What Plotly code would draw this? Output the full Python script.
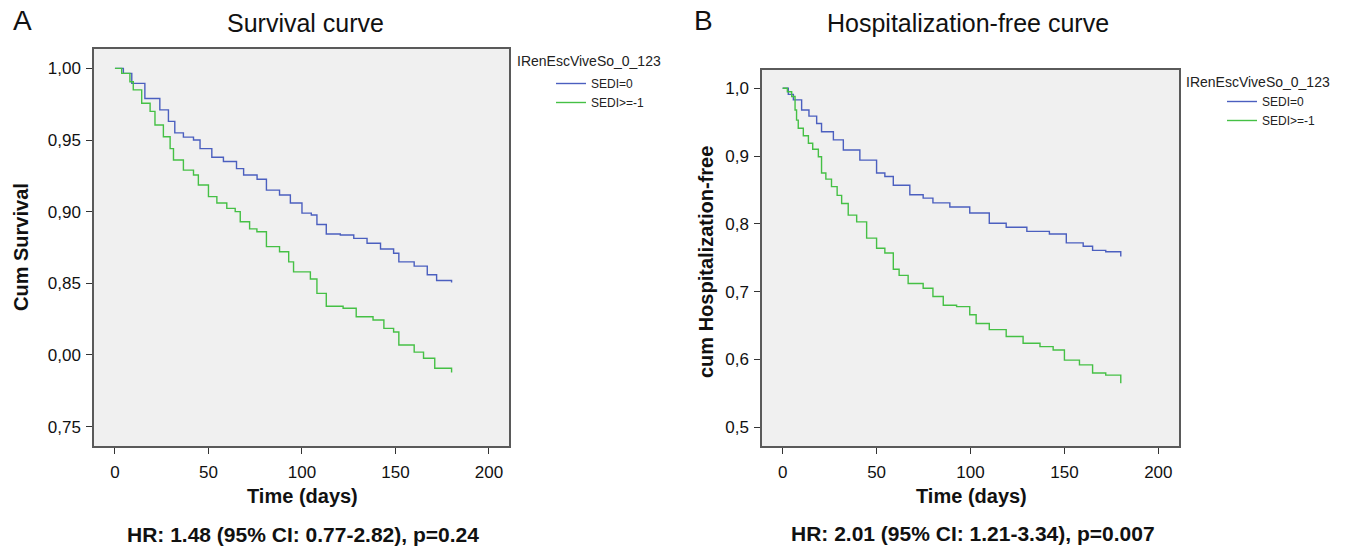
import plotly.graph_objects as go

# Panel A - survival (Kaplan-Meier)
days_a_sedi0 = [0, 4.5, 9, 16, 24, 28.6, 32, 36.6, 42, 45.5, 51.8, 58, 65, 68.8, 76, 81, 88, 93.8,
                100, 105, 108, 113, 120.5, 127.7, 134.8, 142, 149, 151.8, 160, 167, 172, 180]
surv_a_sedi0 = [1.0, 0.9965, 0.9895, 0.979, 0.971, 0.963, 0.955, 0.952, 0.950, 0.944, 0.938, 0.935,
                0.930, 0.9256, 0.9226, 0.915, 0.9116, 0.906, 0.899, 0.8977, 0.891, 0.8844, 0.8837,
                0.8814, 0.878, 0.874, 0.871, 0.865, 0.862, 0.856, 0.852, 0.8505]
days_a_sedi1 = [0, 3.6, 8, 9.8, 14.3, 18.8, 21.4, 25.9, 29.5, 31.3, 36.6, 42, 44.6, 50, 54.5, 59.8,
                64.3, 67, 72, 75.9, 81, 88, 92.9, 95.5, 104.5, 108, 113, 122, 129, 138, 143.8, 149,
                151.8, 160, 165, 171, 180]
surv_a_sedi1 = [1.0, 0.9965, 0.9907, 0.985, 0.9756, 0.970, 0.9605, 0.9523, 0.944, 0.936, 0.929,
                0.9256, 0.9186, 0.9105, 0.906, 0.9023, 0.900, 0.893, 0.888, 0.886, 0.8756, 0.872,
                0.865, 0.858, 0.853, 0.843, 0.834, 0.8326, 0.8267, 0.8244, 0.8186, 0.816, 0.807,
                0.802, 0.7977, 0.7907, 0.7877]

# Panel B - hospitalization-free
days_b_sedi0 = [0, 3, 5.7, 10.1, 14, 18.1, 20.7, 27, 32.3, 41.1, 50, 54.4, 58.9, 67.7, 74.8, 80, 89,
                99.6, 110, 119, 130, 142, 151, 160, 165, 172, 180]
hosp_b_sedi0 = [1.0, 0.991, 0.983, 0.968, 0.959, 0.948, 0.936, 0.924, 0.909, 0.894, 0.875, 0.870,
                0.857, 0.843, 0.838, 0.831, 0.825, 0.816, 0.801, 0.795, 0.789, 0.785, 0.772, 0.767,
                0.761, 0.759, 0.752]
days_b_sedi1 = [0, 2.5, 4.8, 6.6, 7.4, 8.3, 11, 13.7, 16, 19, 20.7, 23, 26, 29, 31.4, 34.9, 39.4,
                44.7, 50, 54.4, 58.9, 62, 66.8, 74.8, 80, 85.5, 92.6, 99.6, 103, 110, 119, 128, 137,
                144, 150, 158, 165, 172, 180]
hosp_b_sedi1 = [1.0, 0.995, 0.988, 0.968, 0.953, 0.941, 0.930, 0.919, 0.910, 0.899, 0.875, 0.866,
                0.855, 0.842, 0.830, 0.813, 0.803, 0.779, 0.764, 0.757, 0.733, 0.724, 0.712, 0.705,
                0.693, 0.680, 0.678, 0.666, 0.653, 0.644, 0.634, 0.624, 0.619, 0.614, 0.599, 0.592,
                0.580, 0.577, 0.565]

x_ticks = [0, 50, 100, 150, 200]
y_ticks_a = [0.75, 0.80, 0.85, 0.90, 0.95, 1.00]
y_text_a = ["0,75", "0,00", "0,85", "0,90", "0,95", "1,00"]  # typo in the original kept
y_ticks_b = [0.5, 0.6, 0.7, 0.8, 0.9, 1.0]
y_text_b = ["0,5", "0,6", "0,7", "0,8", "0,9", "1,0"]

W, H = 1348, 549
BLUE = "#4b5fbf"
GREEN = "#45c045"
FONT = "Liberation Sans, Arial, Helvetica, sans-serif"


def px(x):
    return x / W


def py(y):
    return 1 - y / H


fig = go.Figure()
fig.add_trace(go.Scatter(x=days_a_sedi0, y=surv_a_sedi0, name="SEDI=0", mode="lines",
                         line=dict(color=BLUE, width=1.4, shape="hv"), xaxis="x", yaxis="y",
                         legend="legend"))
fig.add_trace(go.Scatter(x=days_a_sedi1, y=surv_a_sedi1, name="SEDI>=-1", mode="lines",
                         line=dict(color=GREEN, width=1.4, shape="hv"), xaxis="x", yaxis="y",
                         legend="legend"))
fig.add_trace(go.Scatter(x=days_b_sedi0, y=hosp_b_sedi0, name="SEDI=0", mode="lines",
                         line=dict(color=BLUE, width=1.4, shape="hv"), xaxis="x2", yaxis="y2",
                         legend="legend2"))
fig.add_trace(go.Scatter(x=days_b_sedi1, y=hosp_b_sedi1, name="SEDI>=-1", mode="lines",
                         line=dict(color=GREEN, width=1.4, shape="hv"), xaxis="x2", yaxis="y2",
                         legend="legend2"))

axis_common = dict(showline=True, mirror=True, linecolor="#5a5a5a", linewidth=1.5,
                   ticks="outside", ticklen=6, tickwidth=1.3, tickcolor="#333",
                   showgrid=False, zeroline=False, tickfont=dict(size=17, color="#111", family=FONT))

fig.update_layout(
    width=W, height=H,
    margin=dict(l=0, r=0, t=0, b=0),
    paper_bgcolor="white", plot_bgcolor="#f0f0f0",
    font=dict(family=FONT, color="#111"),
    xaxis=dict(domain=[px(94), px(509)], range=[-11.2, 210.7], tickvals=x_ticks,
               ticklabelstandoff=4, anchor="y", **axis_common),
    yaxis=dict(domain=[py(446), py(49)], range=[0.7365, 1.0135], tickvals=y_ticks_a,
               ticktext=y_text_a, ticklabelstandoff=2, anchor="x", **axis_common),
    xaxis2=dict(domain=[px(762), px(1179)], range=[-11.0, 211.0], tickvals=x_ticks,
                ticklabelstandoff=4, anchor="y2", **axis_common),
    yaxis2=dict(domain=[py(446), py(70)], range=[0.4724, 1.027], tickvals=y_ticks_b,
                ticktext=y_text_b, ticklabelstandoff=2, anchor="x2", **axis_common),
    legend=dict(x=px(551), y=py(69), xanchor="left", yanchor="top", bgcolor="rgba(0,0,0,0)",
                font=dict(size=12, color="#222"), itemwidth=30, tracegroupgap=0),
    legend2=dict(x=px(1222), y=py(87), xanchor="left", yanchor="top", bgcolor="rgba(0,0,0,0)",
                 font=dict(size=12, color="#222"), itemwidth=30, tracegroupgap=0),
)

annotations = [
    # panel letters and titles
    dict(text="A", x=px(22), y=py(20), font=dict(size=28)),
    dict(text="B", x=px(703), y=py(20), font=dict(size=28)),
    dict(text="Survival curve", x=px(305), y=py(23), font=dict(size=25)),
    dict(text="Hospitalization-free curve", x=px(968), y=py(23), font=dict(size=25)),
    # axis titles
    dict(text="<b>Time (days)</b>", x=px(302), y=py(496), font=dict(size=20)),
    dict(text="<b>Time (days)</b>", x=px(971), y=py(496), font=dict(size=20)),
    dict(text="<b>Cum Survival</b>", x=px(21), y=py(247), textangle=-90, font=dict(size=20)),
    dict(text="<b>cum Hospitalization-free</b>", x=px(706), y=py(262), textangle=-90,
         font=dict(size=20)),
    # hazard ratios
    dict(text="<b>HR: 1.48 (95% CI: 0.77-2.82), p=0.24</b>", x=px(303), y=py(534),
         font=dict(size=21)),
    dict(text="<b>HR: 2.01 (95% CI: 1.21-3.34), p=0.007</b>", x=px(973), y=py(533),
         font=dict(size=21)),
    # legend titles
    dict(text="IRenEscViveSo_0_123", x=px(515), y=py(61), xanchor="left",
         font=dict(size=14, color="#222")),
    dict(text="IRenEscViveSo_0_123", x=px(1184), y=py(82), xanchor="left",
         font=dict(size=14, color="#222")),
]
for a in annotations:
    a.setdefault("xanchor", "center")
    a.update(xref="paper", yref="paper", showarrow=False, yanchor="middle")
fig.update_layout(annotations=annotations)

# page body has a default 8px margin, drop it so the figure fills the window
fig.write_html("out.html", config={"displayModeBar": False},
               post_script="document.body.style.margin='0';")
